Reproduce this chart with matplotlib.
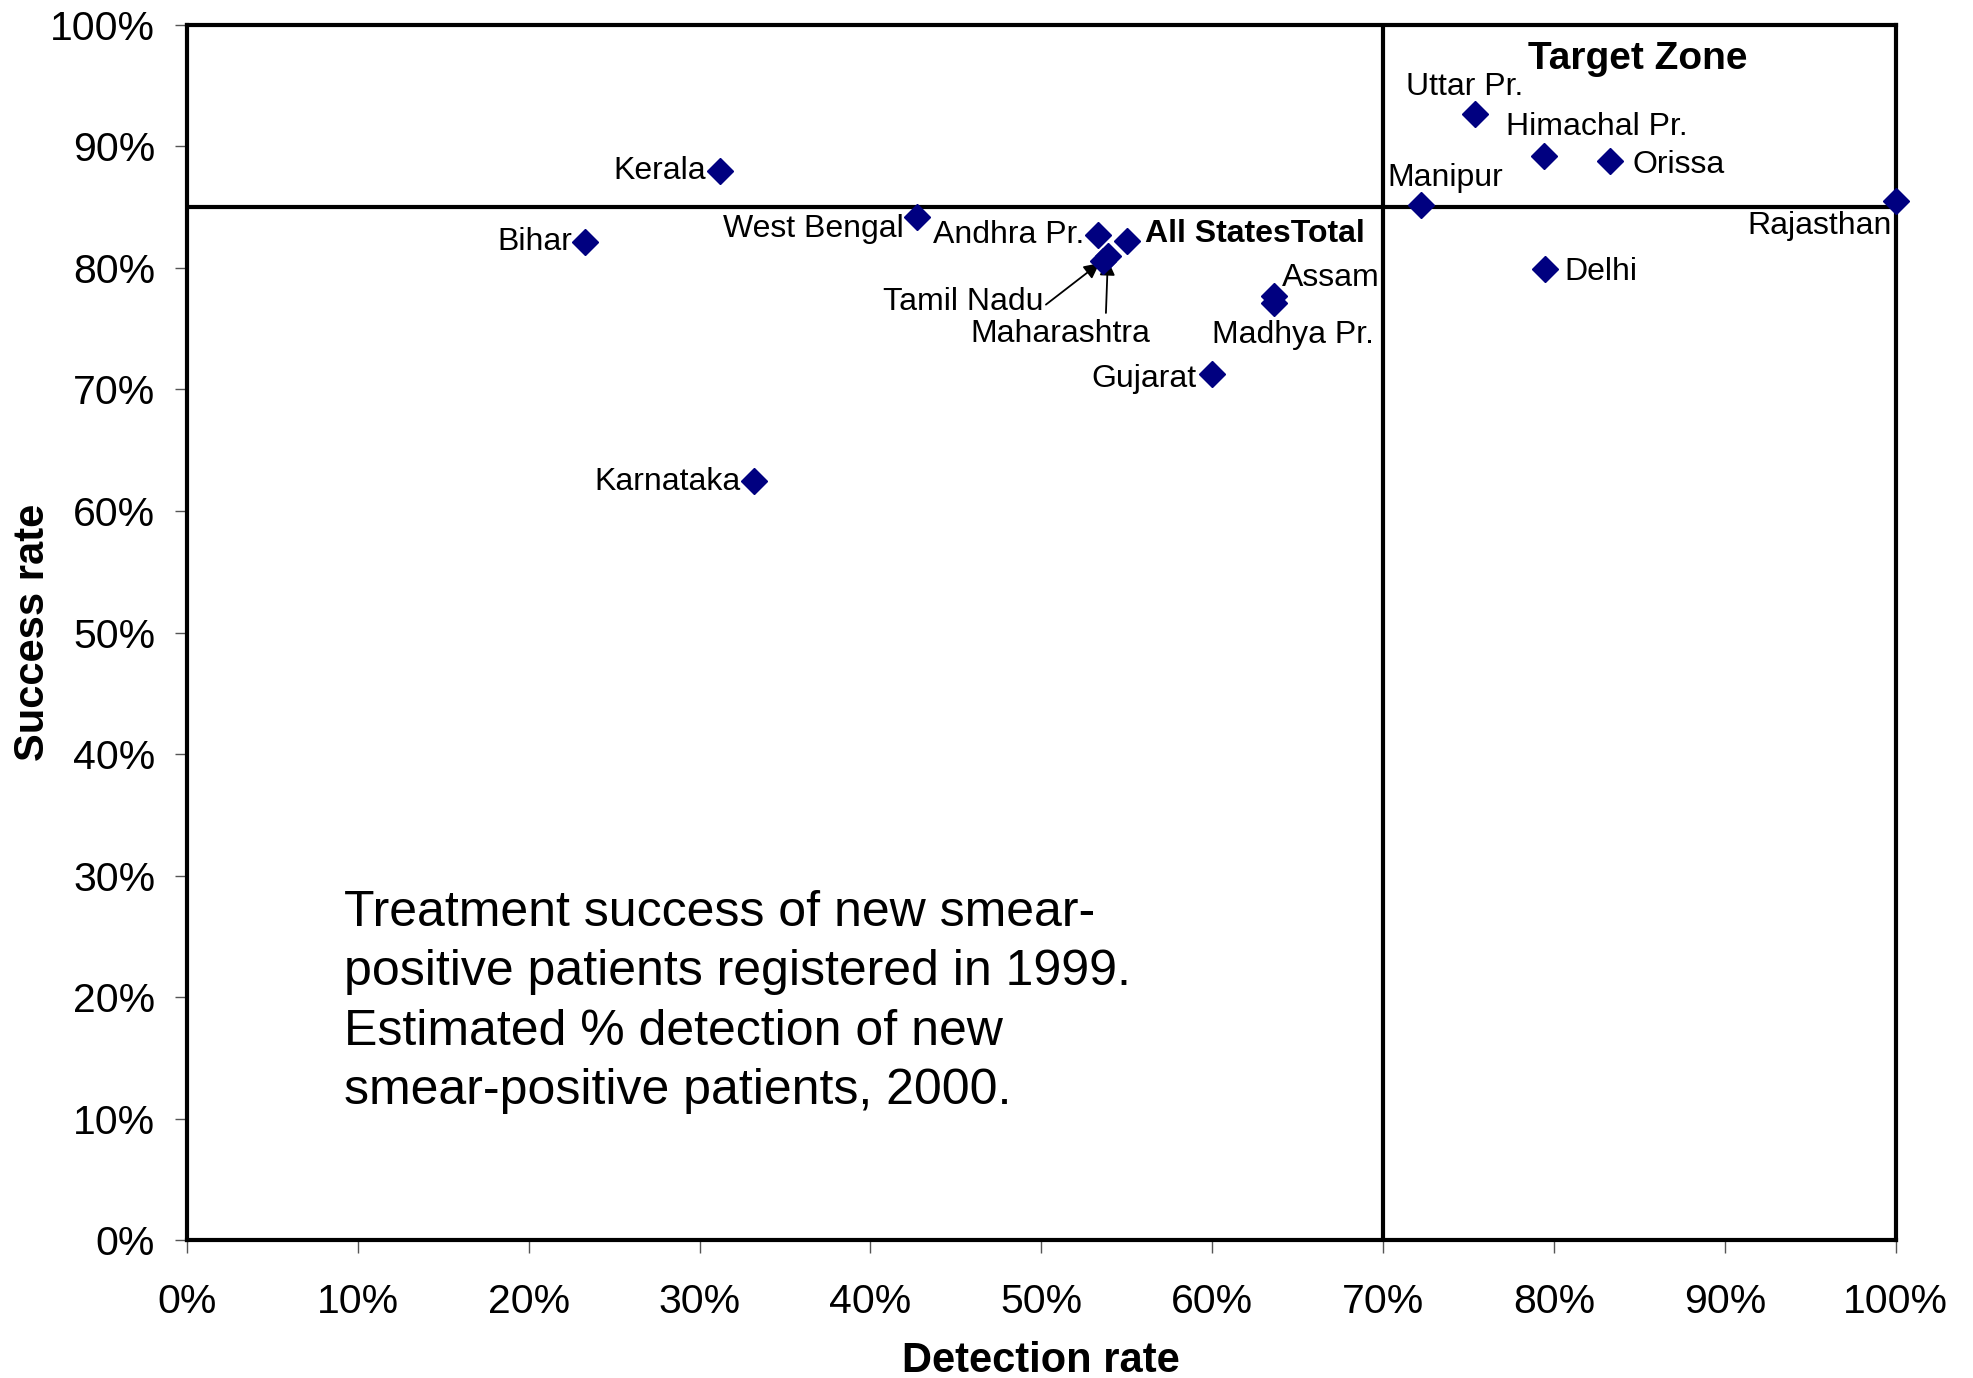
import matplotlib.pyplot as plt
from matplotlib.ticker import FuncFormatter, MultipleLocator

plt.rcParams['font.family'] = ['Liberation Sans', 'DejaVu Sans']

# detection rate (%) and treatment success (%) per state
states = ['Kerala', 'Bihar', 'Karnataka', 'West Bengal', 'Andhra Pr.', 'All StatesTotal',
          'Tamil Nadu', 'Maharashtra', 'Assam', 'Madhya Pr.', 'Gujarat',
          'Uttar Pr.', 'Himachal Pr.', 'Orissa', 'Manipur', 'Rajasthan', 'Delhi']
detection = [31.2, 23.3, 33.2, 42.7, 53.3, 55.0, 53.6, 53.9, 63.6, 63.6, 60.0,
             75.4, 79.4, 83.3, 72.2, 100.0, 79.5]
success = [88.0, 82.1, 62.5, 84.2, 82.7, 82.2, 80.6, 81.0, 77.7, 77.1, 71.3,
           92.7, 89.2, 88.8, 85.2, 85.5, 79.9]

target_detection = 70
target_success = 85

# label placement: (dx, dy in points, ha)
label_pos = {
    'Kerala': (-10, 0, 'right'),
    'Bihar': (-9, 0, 'right'),
    'Karnataka': (-10, -1, 'right'),
    'West Bengal': (-9, -9, 'right'),
    'Andhra Pr.': (-10, 0, 'right'),
    'All StatesTotal': (13, 5, 'left'),
    'Tamil Nadu': (-43, -30, 'right'),
    'Maharashtra': (-34, -56, 'center'),
    'Assam': (6, 13, 'left'),
    'Madhya Pr.': (14, -23, 'center'),
    'Gujarat': (-11, -4, 'right'),
    'Uttar Pr.': (-8, 19, 'center'),
    'Himachal Pr.': (-27, 21, 'left'),
    'Orissa': (16, -3, 'left'),
    'Manipur': (18, 19, 'center'),
    'Rajasthan': (-3, -18, 'right'),
    'Delhi': (14, -2, 'left'),
}

fig = plt.figure(figsize=(19.73, 13.78), dpi=100)
ax = fig.add_axes([0.0948, 0.100, 0.866, 0.882])

ax.plot(detection, success, linestyle='none', marker='D', ms=13,
        color='#000080', zorder=5, clip_on=False)

ax.axvline(target_detection, color='black', lw=3, zorder=2)
ax.axhline(target_success, color='black', lw=3, zorder=2)

for name, x, y in zip(states, detection, success):
    dx, dy, ha = label_pos[name]
    weight = 'bold' if name == 'All StatesTotal' else 'normal'
    if name == 'Tamil Nadu':
        ax.annotate(name, (x, y), xytext=(dx, dy), textcoords='offset points',
                    ha=ha, va='center', fontsize=23,
                    arrowprops=dict(arrowstyle='-|>', color='black', lw=1.3,
                                    relpos=(1.0, 0.35), shrinkA=0, shrinkB=3))
    elif name == 'Maharashtra':
        ax.annotate(name, (x, y), xytext=(dx, dy), textcoords='offset points',
                    ha=ha, va='center', fontsize=23,
                    arrowprops=dict(arrowstyle='-|>', color='black', lw=1.3,
                                    relpos=(0.75, 1.0), shrinkA=2, shrinkB=3))
    else:
        ax.annotate(name, (x, y), xytext=(dx, dy), textcoords='offset points',
                    ha=ha, va='center', fontsize=23, fontweight=weight)

ax.text(84.9, 97.2, 'Target Zone', fontsize=28, fontweight='bold',
        ha='center', va='center')

ax.text(9.2, 28.8, 'Treatment success of new smear-\npositive patients registered in 1999.\n'
        'Estimated % detection of new\nsmear-positive patients, 2000.',
        fontsize=36, ha='left', va='top', linespacing=1.37)

ax.set_xlim(0, 100)
ax.set_ylim(0, 100)
ax.xaxis.set_major_locator(MultipleLocator(10))
ax.yaxis.set_major_locator(MultipleLocator(10))
pct = FuncFormatter(lambda v, p: '%d%%' % round(v))
ax.xaxis.set_major_formatter(pct)
ax.yaxis.set_major_formatter(pct)
ax.tick_params(axis='both', labelsize=29.5, length=9, width=1, color='#555555')
ax.tick_params(axis='y', pad=14)
ax.tick_params(axis='x', pad=22)

for s in ax.spines.values():
    s.set_linewidth(3)

ax.set_xlabel('Detection rate', fontsize=30, fontweight='bold', labelpad=14)
ax.set_ylabel('Success rate', fontsize=30, fontweight='bold', labelpad=-2)

fig.savefig('out.png', dpi=100)
